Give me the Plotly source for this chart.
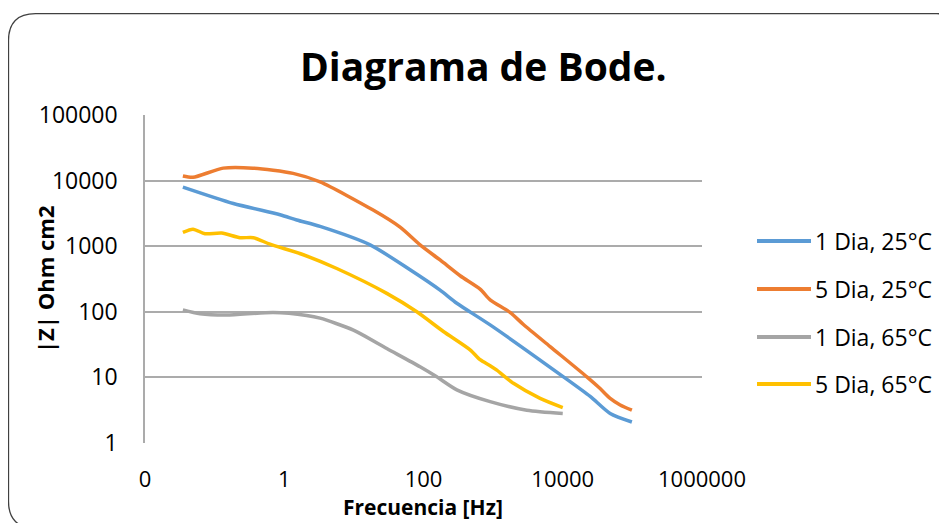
import plotly.graph_objects as go

# ---------------- data ----------------
series_names = ["1 Dia, 25°C", "5 Dia, 25°C", "1 Dia, 65°C", "5 Dia, 65°C"]
series_colors = ["#5B9BD5", "#ED7D31", "#A5A5A5", "#FFC000"]

freq_1d25 = [0.035, 0.186, 0.871, 1.51, 3.27, 17.1, 64.1, 173, 301, 906, 10230, 24770, 48000, 98400]
z_1d25 = [7940, 4470, 3020, 2510, 2000, 1047, 437, 214, 135, 63.1, 10.2, 5.13, 2.82, 2.09]

freq_5d25 = [0.035, 0.049, 0.133, 0.356, 1.34, 3.27, 18.9, 46.1, 89.3, 173, 336, 650, 906,
             1750, 2724, 6590, 22200, 34400, 48000, 66800, 98400]
z_5d25 = [11750, 11220, 15490, 15490, 12880, 9550, 3550, 1950, 1047, 617, 355, 222, 152,
          98, 64, 29.5, 10.2, 6.76, 4.79, 3.80, 3.16]

freq_1d65 = [0.035, 0.0617, 0.149, 0.697, 2.10, 3.27, 9.84, 29.7, 89.3, 155, 301, 906, 3050, 10000]
z_1d65 = [107, 93.3, 89.1, 97.7, 88.0, 80.0, 52.5, 27.5, 14.5, 10.2, 6.46, 4.27, 3.16, 2.82]

freq_5d65 = [0.035, 0.049, 0.0728, 0.1265, 0.232, 0.360, 0.625, 1.88, 5.68, 29.7, 80.2, 193, 467,
             650, 906, 1130, 1960, 4730, 10000]
z_5d65 = [1622, 1820, 1549, 1585, 1349, 1349, 1072, 741, 457, 191, 100, 50.1, 26.3, 18.6, 15.1,
          12.9, 8.13, 4.79, 3.47]

x_tickvals = [0.01, 1, 100, 10000, 1000000]
x_ticktext = ["0", "1", "100", "10000", "1000000"]
y_tickvals = [1, 10, 100, 1000, 10000, 100000]
y_ticktext = ["1", "10", "100", "1000", "10000", "100000"]

title_text = "Diagrama de Bode."
x_title = "Frecuencia [Hz]"
y_title = "|Z| Ohm cm2"

# ---------------- layout geometry (reference-screenshot pixels) ----------------
BODY = 8                      # default page margin of the html body
W, H = 947 - BODY, 523 - BODY
PL, PR, PT, PB = 145, 702, 115, 443  # plot area box in screenshot pixels


def px(x):
    return (x - PL) / (PR - PL)


def py(y):
    return (PB - y) / (PB - PT)


FONT = "Open Sans"

fig = go.Figure()
all_x = [freq_1d25, freq_5d25, freq_1d65, freq_5d65]
all_y = [z_1d25, z_5d25, z_1d65, z_5d65]
for name, col, xs, ys in zip(series_names, series_colors, all_x, all_y):
    fig.add_trace(go.Scatter(
        x=xs, y=ys, name=name, mode="lines",
        line=dict(color=col, width=3.5, shape="spline", smoothing=0.7),
        showlegend=False, hoverinfo="skip"))

grid_col = "#ABABAB"
fig.update_xaxes(type="log", range=[-2, 6], tickvals=x_tickvals, ticktext=x_ticktext,
                 showgrid=False, zeroline=False, showline=False,
                 ticks="", ticklabelstandoff=21,
                 tickfont=dict(family=FONT, size=22, color="#000000"))
fig.update_yaxes(type="log", range=[0, 5], tickvals=y_tickvals, ticktext=y_ticktext,
                 showgrid=True, gridcolor=grid_col, gridwidth=1.5, zeroline=False,
                 showline=True, linecolor=grid_col, linewidth=1.5,
                 ticks="", ticklabelstandoff=21,
                 tickfont=dict(family=FONT, size=23, color="#000000"))

shapes = []
annotations = []

# rounded chart-area border (extends beyond the visible frame on the right/bottom)
bx0, by0, bx1, by1, r = 8.5, 13.7, 964, 528, 27
path = (f"M {px(bx0)},{py(by0 + r)} "
        f"Q {px(bx0)},{py(by0)} {px(bx0 + r)},{py(by0)} "
        f"L {px(bx1 - r)},{py(by0)} "
        f"Q {px(bx1)},{py(by0)} {px(bx1)},{py(by0 + r)} "
        f"L {px(bx1)},{py(by1 - r)} "
        f"Q {px(bx1)},{py(by1)} {px(bx1 - r)},{py(by1)} "
        f"L {px(bx0 + r)},{py(by1)} "
        f"Q {px(bx0)},{py(by1)} {px(bx0)},{py(by1 - r)} Z")
shapes.append(dict(type="path", xref="paper", yref="paper", path=path,
                   line=dict(color="#404040", width=1.3), layer="below"))

# manual legend (Excel style, long line keys)
legend_rows = [241, 289, 337, 384]
for name, col, ry in zip(series_names, series_colors, legend_rows):
    shapes.append(dict(type="line", xref="paper", yref="paper",
                       x0=px(757), x1=px(811), y0=py(ry), y1=py(ry),
                       line=dict(color=col, width=4)))
    annotations.append(dict(text=name, xref="paper", yref="paper", x=px(813), y=py(ry),
                            xanchor="left", yanchor="middle", showarrow=False,
                            font=dict(family=FONT, size=23, color="#000000")))

annotations.append(dict(text=f"<b>{title_text}</b>", xref="paper", yref="paper",
                        x=px(483), y=py(66), xanchor="center", yanchor="middle",
                        showarrow=False, font=dict(family=FONT, size=39, color="#000000")))
annotations.append(dict(text=f"<b>{x_title}</b>", xref="paper", yref="paper",
                        x=px(423), y=py(507), xanchor="center", yanchor="middle",
                        showarrow=False, font=dict(family=FONT, size=21, color="#000000")))
annotations.append(dict(text=f"<b>{y_title}</b>", xref="paper", yref="paper",
                        x=px(45), y=py(280), xanchor="center", yanchor="middle",
                        textangle=-90, showarrow=False,
                        font=dict(family=FONT, size=22, color="#000000")))

fig.update_layout(
    width=W, height=H,
    margin=dict(l=PL - BODY, r=W - (PR - BODY), t=PT - BODY, b=H - (PB - BODY), pad=0),
    paper_bgcolor="#FFFFFF", plot_bgcolor="#FFFFFF",
    shapes=shapes, annotations=annotations,
    showlegend=False,
    font=dict(family=FONT, color="#000000"),
)

fig.write_html("out.html", config={"displayModeBar": False})
